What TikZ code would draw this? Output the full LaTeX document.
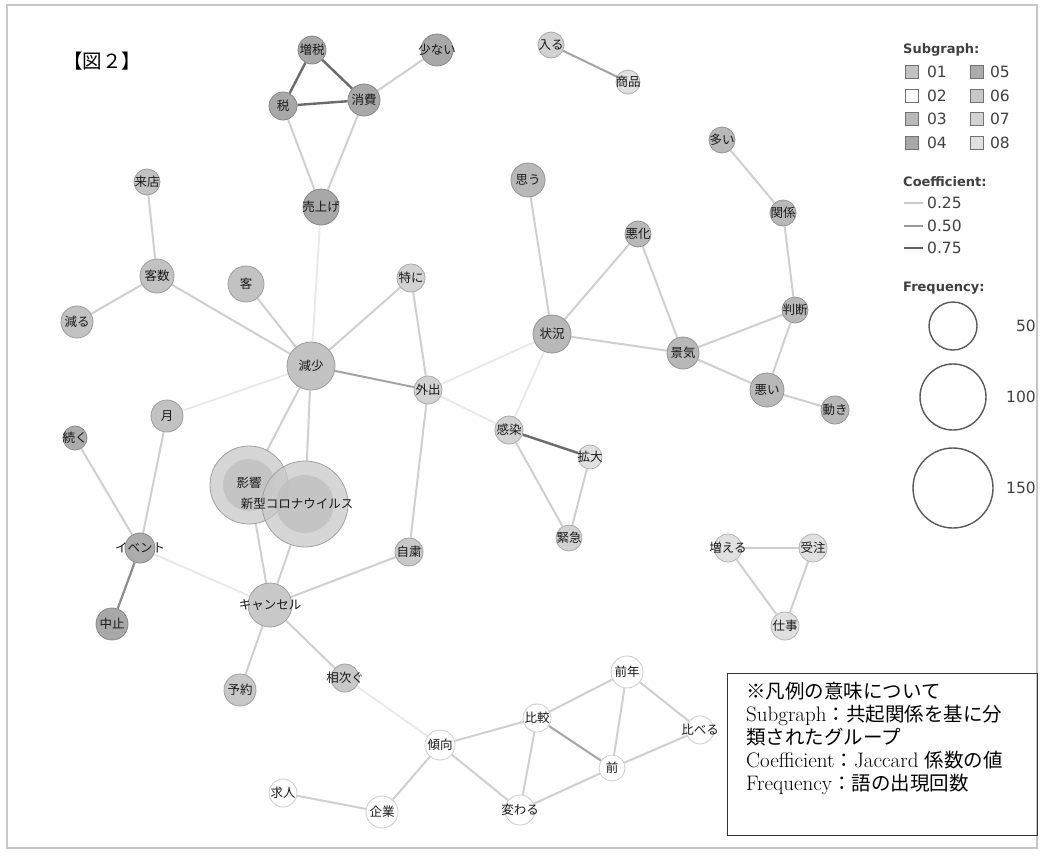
\documentclass[tikz,border=0pt]{standalone}
\usepackage{fontspec}
\newfontfamily\jp{Noto Sans CJK JP}
\newfontfamily\legfont{DejaVu Sans}
\usetikzlibrary{backgrounds,positioning}

\definecolor{sgA}{HTML}{C2C2C2}
\definecolor{sgB}{HTML}{FFFFFF}
\definecolor{sgC}{HTML}{B8B8B8}
\definecolor{sgD}{HTML}{A8A8A8}
\definecolor{sgE}{HTML}{ACACAC}
\definecolor{sgF}{HTML}{C8C8C8}
\definecolor{sgG}{HTML}{D2D2D2}
\definecolor{sgH}{HTML}{E0E0E0}

\tikzset{
	mot/.style args={#1/#2}{circle, inner sep=0pt, minimum size=2*#1, fill=#2, draw=#2!80!black, line width=0.8pt},
	lbl/.style={font=\jp\fontsize{12.5}{13}\selectfont, text=black!90, inner sep=0pt},
	faible/.style={draw=black!9, line width=1.8pt},
	leger/.style={draw=black!19, line width=2pt},
	moyen/.style={draw=black!36, line width=2pt},
	fort/.style={draw=black!58, line width=2.4pt},
	carre/.style={draw=black!55, line width=0.7pt, minimum size=13pt, inner sep=0pt},
	legtxt/.style={font=\legfont\fontsize{15.5}{16}\selectfont, text=black!75, inner sep=0pt},
	legtitre/.style={font=\legfont\bfseries\fontsize{13}{14}\selectfont, text=black!75, inner sep=0pt, anchor=west},
}

\begin{document}
\begin{tikzpicture}[x=1pt, y=-1pt]

	\useasboundingbox (0,0) rectangle (1041,855);
	\draw[black!22, line width=2pt] (7,5) rectangle (1037,848);

	% Titre
	\node[font=\jp\fontsize{19.5}{20}\selectfont] (titre) at (102,61) {【図２】};

	% Groupe taxe
	\node[mot=14/sgD, label={[lbl]center:増税}] (zouzei) at (312,50) {};
	\node[mot=16/sgD, label={[lbl]center:少ない}] (sukunai) at (437,50) {};
	\node[mot=14/sgD, label={[lbl]center:税}] (zei) at (283,106) {};
	\node[mot=16/sgD, label={[lbl]center:消費}] (shouhi) at (364,100) {};
	\node[mot=18/sgD, label={[lbl]center:売上げ}] (uriage) at (321,207) {};
	\node[mot=13/sgG, label={[lbl]center:入る}] (hairu) at (551,45) {};
	\node[mot=12/sgH, label={[lbl]center:商品}] (shouhin) at (628,82) {};

	% Groupe client
	\node[mot=13/sgA, label={[lbl]center:来店}] (raiten) at (147,182) {};
	\node[mot=17/sgA, label={[lbl]center:客数}] (kyakusuu) at (157,276) {};
	\node[mot=18/sgA, label={[lbl]center:客}] (kyaku) at (246,284) {};
	\node[mot=16/sgA, label={[lbl]center:減る}] (heru) at (77,322) {};
	\node[mot=24/sgA, label={[lbl]center:減少}] (genshou) at (311,366) {};
	\node[mot=16/sgA, label={[lbl]center:月}] (tsuki) at (167,416) {};
	\node[mot=14/sgG, label={[lbl]center:特に}] (tokuni) at (411,278) {};
	\node[mot=14/sgG, label={[lbl]center:外出}] (gaishutsu) at (428,390) {};

	% Groupe conjoncture
	\node[mot=17/sgC, label={[lbl]center:思う}] (omou) at (528,180) {};
	\node[mot=13/sgC, label={[lbl]center:悪化}] (akka) at (638,234) {};
	\node[mot=19/sgC, label={[lbl]center:状況}] (joukyou) at (552,334) {};
	\node[mot=16/sgC, label={[lbl]center:景気}] (keiki) at (683,353) {};
	\node[mot=13/sgC, label={[lbl]center:判断}] (handan) at (795,310) {};
	\node[mot=17/sgC, label={[lbl]center:悪い}] (warui) at (767,390) {};
	\node[mot=14/sgC, label={[lbl]center:動き}] (ugoki) at (835,410) {};
	\node[mot=13/sgC, label={[lbl]center:多い}] (ooi) at (722,140) {};
	\node[mot=13/sgC, label={[lbl]center:関係}] (kankei) at (783,213) {};

	% Groupe infection
	\node[mot=14/sgG, label={[lbl]center:感染}] (kansen) at (509,430) {};
	\node[mot=12/sgH, label={[lbl]center:拡大}] (kakudai) at (590,457) {};
	\node[mot=13/sgG, label={[lbl]center:緊急}] (kinkyuu) at (569,538) {};

	% Les deux grands cercles
	\node[mot=39/sgF, fill opacity=0.75, path picture={\fill[sgF!95!black] (path picture bounding box.center) circle (26pt);}] (eikyou) at (249,485) {};
	\node[mot=43/sgF, fill opacity=0.75, path picture={\fill[sgF!95!black] (path picture bounding box.center) circle (29pt);}] (corona) at (305,504) {};
	\node[lbl] (eikyou-t) at (249,483) {影響};
	\node[lbl] (corona-t) at (297,504) {新型コロナウイルス};

	% Groupe evenement
	\node[mot=12/sgE, label={[lbl]center:続く}] (tsuzuku) at (75,438) {};
	\node[mot=15/sgE, label={[lbl]center:イベント}] (ibento) at (140,548) {};
	\node[mot=16/sgD, label={[lbl]center:中止}] (chuushi) at (112,624) {};
	\node[mot=22/sgF, label={[lbl]center:キャンセル}] (kyanseru) at (270,605) {};
	\node[mot=14/sgF, label={[lbl]center:自粛}] (jishuku) at (409,552) {};
	\node[mot=16/sgF, label={[lbl]center:予約}] (yoyaku) at (240,690) {};
	\node[mot=14/sgF, label={[lbl]center:相次ぐ}] (aitsugu) at (345,678) {};

	% Groupe comparaison
	\node[mot=15/sgB, label={[lbl]center:傾向}] (keikou) at (440,745) {};
	\node[mot=14/sgB, label={[lbl]center:比較}] (hikaku) at (537,718) {};
	\node[mot=16/sgB, label={[lbl]center:前年}] (zennen) at (627,672) {};
	\node[mot=14/sgB, label={[lbl]center:比べる}] (kuraberu) at (700,730) {};
	\node[mot=13/sgB, label={[lbl]center:前}] (mae) at (612,768) {};
	\node[mot=15/sgB, label={[lbl]center:変わる}] (kawaru) at (520,810) {};
	\node[mot=16/sgB, label={[lbl]center:企業}] (kigyou) at (382,812) {};
	\node[mot=14/sgB, label={[lbl]center:求人}] (kyuujin) at (283,793) {};

	% Groupe commandes
	\node[mot=14/sgH, label={[lbl]center:増える}] (fueru) at (728,548) {};
	\node[mot=14/sgH, label={[lbl]center:受注}] (juchuu) at (813,548) {};
	\node[mot=14/sgH, label={[lbl]center:仕事}] (shigoto) at (785,626) {};

	% Liens
	\begin{scope}[on background layer]
		\foreach \a/\b in {uriage/genshou, tsuki/genshou, ibento/kyanseru, aitsugu/keikou, gaishutsu/joukyou, gaishutsu/kansen, joukyou/kansen}
			\draw[faible] (\a) -- (\b);
		\foreach \a/\b in {shouhi/sukunai, zei/uriage, shouhi/uriage, raiten/kyakusuu, kyakusuu/heru, kyakusuu/genshou, kyaku/genshou, tokuni/genshou, tokuni/gaishutsu, genshou/eikyou, genshou/corona, tsuki/ibento, tsuzuku/ibento, eikyou/kyanseru, corona/kyanseru, kyanseru/jishuku, jishuku/gaishutsu, kyanseru/yoyaku, kyanseru/aitsugu, kansen/kinkyuu, kakudai/kinkyuu, omou/joukyou, joukyou/akka, joukyou/keiki, akka/keiki, keiki/handan, keiki/warui, handan/warui, warui/ugoki, handan/kankei, kankei/ooi, fueru/juchuu, fueru/shigoto, juchuu/shigoto, keikou/hikaku, keikou/kigyou, keikou/kawaru, hikaku/zennen, hikaku/kawaru, zennen/mae, zennen/kuraberu, mae/kuraberu, mae/kawaru, kyuujin/kigyou}
			\draw[leger] (\a) -- (\b);
		\foreach \a/\b in {genshou/gaishutsu, hairu/shouhin, hikaku/mae}
			\draw[moyen] (\a) -- (\b);
		\draw[black!45, line width=2.2pt] (ibento) -- (chuushi);
		\foreach \a/\b in {zouzei/zei, zouzei/shouhi, zei/shouhi, kansen/kakudai}
			\draw[fort] (\a) -- (\b);
	\end{scope}

	% Legende Subgraph
	\node[legtitre] (t-sub) at (903,50) {Subgraph:};
	\foreach \c/\n/\y in {sgA/01/72, sgB/02/96, sgC/03/119, sgD/04/143}{
		\node[carre, fill=\c] (sq\n) at (912,\y) {};
		\node[legtxt, right=8pt of sq\n] (lb\n) {\n};
	}
	\foreach \c/\n/\y in {sgE/05/72, sgF/06/96, sgG/07/119, sgH/08/143}{
		\node[carre, fill=\c] (sq\n) at (977,\y) {};
		\node[legtxt, right=6pt of sq\n] (lb\n) {\n};
	}

	% Legende Coefficient
	\node[legtitre] (t-coef) at (903,182) {Coefficient:};
	\foreach \s/\v/\y [count=\k] in {20/0.25/203, 40/0.50/226, 62/0.75/248}{
		\coordinate (cf\k) at (904,\y);
		\node[legtxt, anchor=west] (vf\k) at (927,\y) {\v};
		\draw[black!\s, line width=1.8pt] (cf\k) -- ([xshift=-4pt]vf\k.west);
	}

	% Legende Frequency
	\node[legtitre] (t-freq) at (903,288) {Frequency:};
	\foreach \r/\f/\y in {24/50/326, 33/100/397, 40/150/488}{
		\node[circle, draw=black!65, line width=1.4pt, minimum size=2*\r, inner sep=0pt] (f\f) at (953,\y) {};
		\node[legtxt, anchor=east] (ft\f) at (1036,\y) {\f};
	}

	% Remarque
	\node[draw=black!80, line width=1pt, minimum width=310, minimum height=162, anchor=north west, inner sep=0pt] (cadre) at (727,673) {};
	\node[anchor=north west, align=left, inner sep=0pt, font=\fontsize{21}{23}\selectfont] (remarque) at (746,682) {{\jp\fontsize{19.5}{23}\selectfont ※凡例の意味について}\\
	Subgraph{\jp\fontsize{19.5}{23}\selectfont ：共起関係を基に分}\\
	{\jp\fontsize{19.5}{23}\selectfont 類されたグループ}\\
	Coefficient{\jp\fontsize{19.5}{23}\selectfont ：}Jaccard {\jp\fontsize{19.5}{23}\selectfont 係数の値}\\
	Frequency{\jp\fontsize{19.5}{23}\selectfont ：語の出現回数}};

\end{tikzpicture}
\end{document}
